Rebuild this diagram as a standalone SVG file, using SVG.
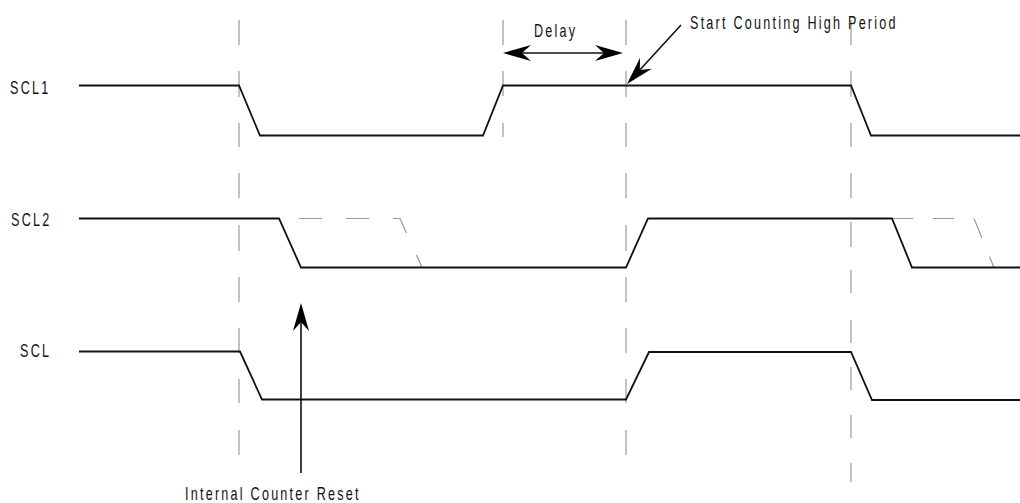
<svg xmlns="http://www.w3.org/2000/svg" width="1020" height="503" viewBox="0 0 1020 503">
<style>
.sig{fill:none;stroke:#111;stroke-width:1.8;stroke-linejoin:miter}
.grid{fill:none;stroke:#9a9a9a;stroke-width:1.2}
.ghost{fill:none;stroke:#9a9a9a;stroke-width:1.2}
.arr{fill:none;stroke:#111;stroke-width:1.6}
.lbl{font-family:"Liberation Sans",Arial,sans-serif;font-size:17.5px;fill:#111;letter-spacing:3.1px}
</style>
<defs>
<marker id="ah" viewBox="0 0 28 16" refX="24" refY="8" markerWidth="28" markerHeight="16" markerUnits="userSpaceOnUse" orient="auto-start-reverse">
<path d="M0,0 L28,8 L0,16 L9,8 Z" fill="#000"/>
</marker>
</defs>
<rect width="1020" height="503" fill="#fff"/>
<g id="guides">
<path class="grid" d="M239,20V45M239,71V97M239,123V147M239,173V198M239,225V251M239,277V302M239,328V353M239,379V403M239,430V455"/>
<path class="grid" d="M503,20V45M503,71V96M503,123V137"/>
<path class="grid" d="M626,20V45M626,71V97M626,123V147M626,173V198M626,225V251M626,277V302M626,328V353M626,379V403M626,430V455"/>
<path class="grid" d="M851,20V45M851,71V97M851,123V147M851,173V198M851,222V247M851,270V293M851,320V343M851,367V390M851,415V438M851,463V482"/>
</g>
<g id="ghosts">
<path class="ghost" d="M279,218.5H400L422,267.5" stroke-dasharray="23 24" stroke-dashoffset="27"/>
<path class="ghost" d="M892,218.5H974L994,267.5" stroke-dasharray="21 20"/>
</g>
<g id="scl1">
<text class="lbl" transform="translate(10,94) scale(0.72,1)">SCL1</text>
<path class="sig" d="M79,85.5H239L260,135.5H483L503,85.5H851L871,135.5H1020"/>
</g>
<g id="scl2">
<text class="lbl" transform="translate(11,226) scale(0.72,1)">SCL2</text>
<path class="sig" d="M79,218.5H279L301,267.5H626L648,218.5H892L912,267.5H1020"/>
</g>
<g id="scl">
<text class="lbl" transform="translate(20,357) scale(0.72,1)">SCL</text>
<path class="sig" d="M79,351.5H240L262,399.5H626L649,352H851L872,400H1020"/>
</g>
<g id="connectors">
<line class="arr" x1="507" y1="53" x2="619" y2="53" marker-start="url(#ah)" marker-end="url(#ah)"/>
<line class="arr" x1="681" y1="25" x2="629.7" y2="81" marker-end="url(#ah)"/>
<line class="arr" x1="301" y1="473" x2="301" y2="307" marker-end="url(#ah)"/>
</g>
<g id="delay-label">
<text class="lbl" transform="translate(534,37) scale(0.72,1)">Delay</text>
</g>
<g id="start-label">
<text class="lbl" transform="translate(690,29) scale(0.72,1)">Start Counting High Period</text>
</g>
<g id="reset-label">
<text class="lbl" transform="translate(185,500) scale(0.72,1)">Internal Counter Reset</text>
</g>
</svg>
